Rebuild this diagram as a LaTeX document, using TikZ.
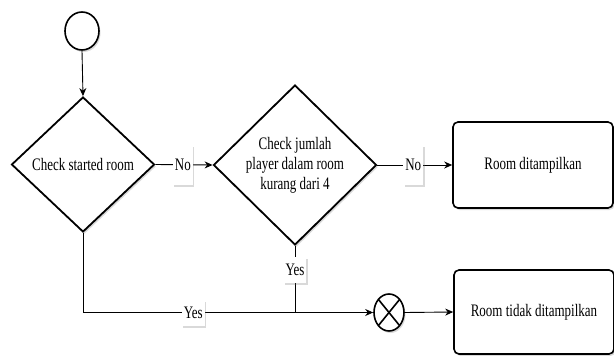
\documentclass[tikz,border=0pt]{standalone}
\usepackage{graphicx}
\usepackage{fontspec}
\setmainfont{Liberation Serif}
\usetikzlibrary{shapes.geometric,shadows,arrows.meta}
% narrow, tall lettering used throughout the chart
\newcommand\tallword[1]{\scalebox{1}[1.35]{#1}}
\begin{document}
\begin{tikzpicture}[x=1pt,y=-1pt,
  font=\fontsize{13}{20}\selectfont,
  softshadow/.style={drop shadow={shadow xshift=1.5pt,shadow yshift=-2pt,opacity=0.25,fill=black!60}},
  decision/.style={diamond,draw,line width=1.8pt,inner sep=0pt,align=center,fill=white,softshadow},
  process/.style={rectangle,rounded corners=5pt,draw,line width=1.6pt,fill=white,softshadow,
                  minimum width=160pt,minimum height=86pt},
  startnode/.style={ellipse,draw,line width=1.6pt,fill=white,softshadow,minimum width=34pt,minimum height=38pt,inner sep=0pt},
  endflow/.style={ellipse,draw,line width=1.6pt,fill=white,softshadow,minimum width=30pt,minimum height=37pt,inner sep=0pt,
                  path picture={\draw[line width=1.6pt]
                    (path picture bounding box.north west) -- (path picture bounding box.south east)
                    (path picture bounding box.north east) -- (path picture bounding box.south west);}},
  flow/.style={draw,line width=0.9pt,-{Stealth[length=8pt,width=7pt]}},
  link/.style={draw,line width=0.9pt},
  tagNo/.style={fill=white,inner xsep=2pt,inner ysep=0pt,minimum height=40pt,softshadow},
  tagYes/.style={fill=white,inner xsep=2pt,inner ysep=0pt,minimum height=26pt,softshadow}]
\useasboundingbox (0,0) rectangle (614,356);

% shapes
\node[startnode] (start) at (82,31) {};
\node[decision,minimum width=143pt,minimum height=135pt] (d1) at (83,164.5) {\tallword{Check started room}};
\node[decision,minimum width=163pt,minimum height=160pt] (d2) at (295,165)
  {\tallword{Check jumlah}\\\tallword{player dalam room}\\\tallword{kurang dari 4}};
\node[process] (show) at (533,165) {\tallword{Room ditampilkan}};
\node[process,minimum height=84pt] (hide) at (534,312) {\tallword{Room tidak ditampilkan}};
\node[endflow] (stop) at (389,312.5) {};

% connectors
\draw[flow] (start.south) -- (d1.north);
\draw[flow] (d1.east) -- node[tagNo,pos=0.48] {\tallword{No}} (d2.west);
\draw[flow] (d2.east) -- node[tagNo,pos=0.48] {\tallword{No}} (show.west);
\coordinate (join) at (d2.south |- stop.west);
\draw[flow] (d1.south) |- node[tagYes,pos=0.69] {\tallword{Yes}} (stop.west);
\draw[link] (d2.south) -- node[tagYes,pos=0.36] {\tallword{Yes}} (join);
\draw[flow] (stop.east) -- (hide.west);
\end{tikzpicture}
\end{document}
